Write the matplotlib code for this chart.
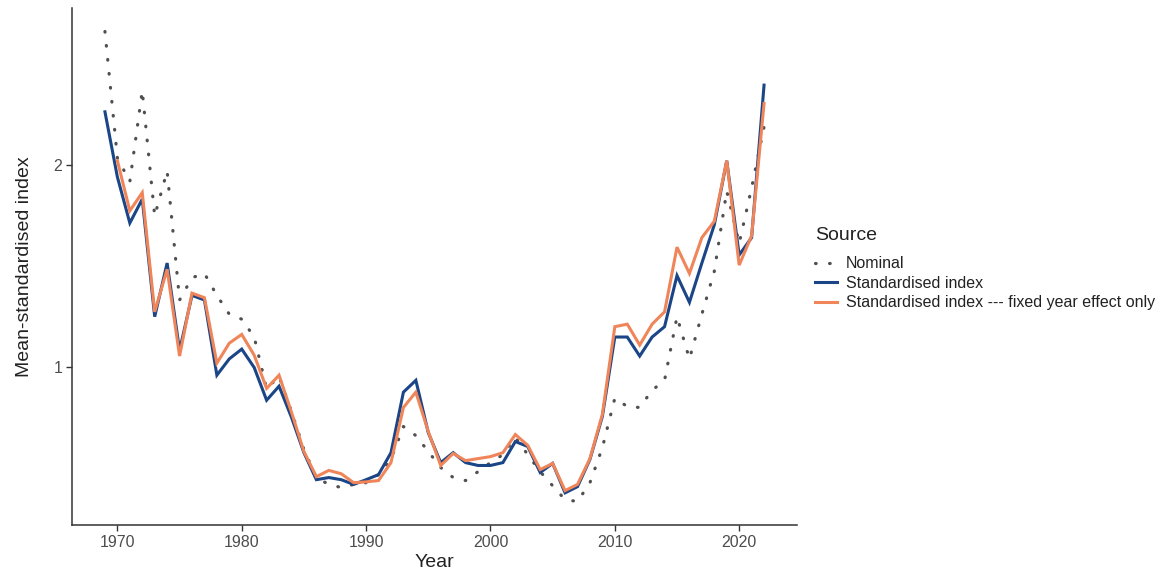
import matplotlib
matplotlib.use("Agg")
import matplotlib.pyplot as plt
from matplotlib.ticker import FixedLocator, FixedFormatter, NullLocator
import numpy as np

plt.rcParams['font.family'] = ['Liberation Sans', 'DejaVu Sans']

years = list(range(1969, 2023))

nominal = [3.16, 2.05, 1.89, 2.58, 1.68, 1.96, 1.26, 1.36, 1.38, 1.28,
           1.20, 1.18, 1.11, 0.93, 0.97, 0.86, 0.755, 0.686, 0.670, 0.663,
           0.670, 0.674, 0.693, 0.730, 0.817, 0.792, 0.750, 0.710, 0.686, 0.679,
           0.700, 0.722, 0.742, 0.787, 0.742, 0.700, 0.667, 0.636, 0.632, 0.674,
           0.760, 0.900, 0.875, 0.872, 0.925, 0.957, 1.19, 1.03, 1.20, 1.39,
           1.83, 1.53, 1.85, 2.28]

standardised = [2.40, 1.92, 1.64, 1.78, 1.19, 1.43, 1.06, 1.28, 1.26, 0.974,
                1.03, 1.065, 1.00, 0.894, 0.938, 0.843, 0.747, 0.681, 0.686, 0.681,
                0.670, 0.681, 0.693, 0.747, 0.919, 0.957, 0.800, 0.722, 0.747, 0.722,
                0.715, 0.715, 0.722, 0.776, 0.763, 0.698, 0.720, 0.651, 0.665, 0.730,
                0.846, 1.11, 1.11, 1.04, 1.11, 1.15, 1.37, 1.25, 1.43, 1.63,
                2.03, 1.47, 1.56, 2.63]

fixed_years = list(range(1970, 2023))
fixed_only = [2.03, 1.71, 1.82, 1.21, 1.40, 1.04, 1.29, 1.27, 1.015,
              1.087, 1.12, 1.043, 0.931, 0.974, 0.858, 0.750, 0.688, 0.703, 0.695,
              0.674, 0.676, 0.679, 0.722, 0.872, 0.919, 0.803, 0.715, 0.745, 0.727,
              0.732, 0.737, 0.747, 0.795, 0.766, 0.705, 0.720, 0.656, 0.670, 0.732,
              0.852, 1.15, 1.16, 1.08, 1.16, 1.21, 1.51, 1.38, 1.56, 1.65,
              2.03, 1.42, 1.57, 2.47]

labels = ["Nominal", "Standardised index",
          "Standardised index --- fixed year effect only"]
x_ticks = [1970, 1980, 1990, 2000, 2010, 2020]
y_ticks = [1, 2]
y_tick_labels = ["1", "2"]

BLUE = "#1a4587"
ORANGE = "#f0855a"
GREY = "#505050"

fig = plt.figure(figsize=(11.65, 5.72), dpi=100)
ax = fig.add_axes([72/1165, 1-525/572, (797-72)/1165, (525-8)/572])

ax.plot(years, nominal, color=GREY, lw=2.3, linestyle=(0, (0.2, 4.2)),
        dash_capstyle='round', label=labels[0], zorder=2)
ax.plot(years, standardised, color=BLUE, lw=2.2, label=labels[1],
        solid_joinstyle='miter', zorder=3)
ax.plot(fixed_years, fixed_only, color=ORANGE, lw=2.2, label=labels[2],
        solid_joinstyle='miter', zorder=4)

ax.set_yscale('log')
allv = np.array(nominal + standardised + fixed_only)
lo, hi = np.log(allv.min()), np.log(allv.max())
pad = 0.05 * (hi - lo)
ax.set_ylim(np.exp(lo - pad), np.exp(hi + pad))
x0, x1 = min(years), max(years)
xp = 0.05 * (x1 - x0)
ax.set_xlim(x0 - xp, x1 + xp)

ax.yaxis.set_major_locator(FixedLocator(y_ticks))
ax.yaxis.set_major_formatter(FixedFormatter(y_tick_labels))
ax.yaxis.set_minor_locator(NullLocator())
ax.set_xticks(x_ticks)
ax.set_xticklabels([str(t) for t in x_ticks])

for s in ['top', 'right']:
    ax.spines[s].set_visible(False)
for s in ['left', 'bottom']:
    ax.spines[s].set_color('#333333')
    ax.spines[s].set_linewidth(1.1)
ax.tick_params(axis='both', which='major', length=4, width=1.0, color='#333333',
               labelcolor='#4d4d4d', labelsize=11.5, pad=3)

ax.set_xlabel("Year", fontsize=14, color='#222222', labelpad=3)
ax.set_ylabel("Mean-standardised index", fontsize=14, color='#222222', labelpad=15)

leg = fig.legend(loc='upper left', bbox_to_anchor=(815/1165, 1-227/572),
                 frameon=False, title="Source", fontsize=11.5,
                 title_fontsize=14, handlelength=1.35, handletextpad=0.6,
                 labelspacing=0.28, borderpad=0, borderaxespad=0,
                 alignment='left')
leg._legend_box.sep = 9
for t in leg.get_texts():
    t.set_color('#222222')
leg.get_title().set_color('#222222')

fig.savefig("out.png", dpi=100)
